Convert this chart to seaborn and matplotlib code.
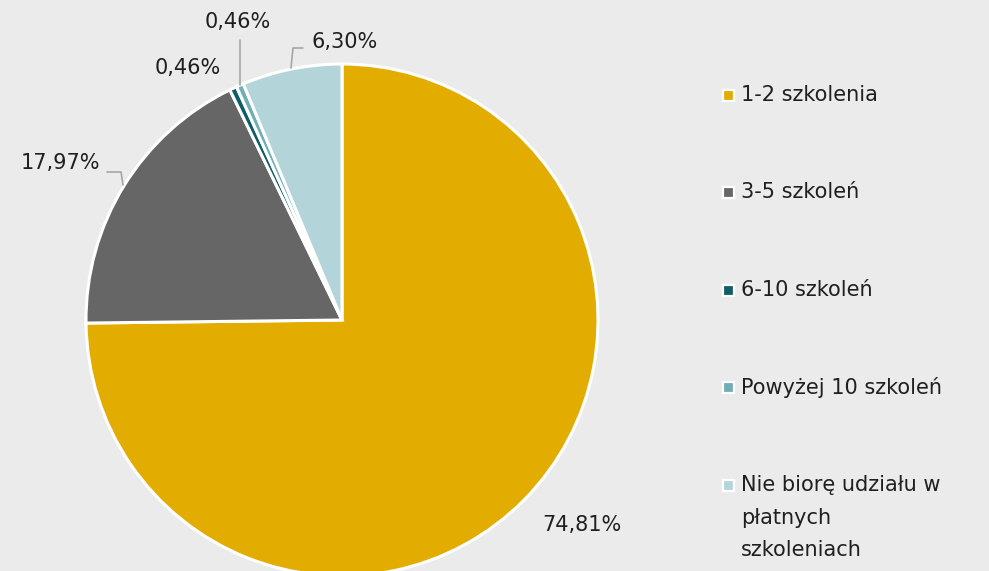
import matplotlib
matplotlib.use("Agg")
import matplotlib.pyplot as plt
from matplotlib.patches import Rectangle
import seaborn as sns

categories = ["1-2 szkolenia", "3-5 szkoleń", "6-10 szkoleń", "Powyżej 10 szkoleń",
              "Nie biorę udziału w\npłatnych\nszkoleniach"]
shares = [74.81, 17.97, 0.46, 0.46, 6.30]
value_labels = ["74,81%", "17,97%", "0,46%", "0,46%", "6,30%"]
colors = ["#E2AC00", "#666666", "#0E5E68", "#72AEB6", "#B3D4D9"]

BG = "#EBEBEB"
TXT = "#1f1f1f"
sns.set_theme(style="white")
plt.rcParams["font.family"] = ["DejaVu Sans"]

W, H = 989, 571
fig = plt.figure(figsize=(W / 100, H / 100), dpi=100, facecolor=BG)
ax = fig.add_axes([0, 0, 1, 1])
ax.set_facecolor(BG)


def fy(y):
    """Convert a top-down pixel row into the axes' y-up frame."""
    return H - y


cx, cy, r = 342, 320, 256
wedges, _ = ax.pie(shares, colors=colors, startangle=90, counterclock=False,
                   center=(cx, fy(cy)), radius=r,
                   wedgeprops=dict(edgecolor="white", linewidth=2.2))
ax.set_xlim(0, W)
ax.set_ylim(0, H)
ax.set_aspect("equal")
ax.axis("off")

FS = 15

# data labels (text centres) and their leader lines
label_pos = [(582, 525), (60, 163), (188, 68), (238, 22), (345, 42)]
for txt, (lx, ly) in zip(value_labels, label_pos):
    ax.text(lx, fy(ly), txt, ha="center", va="center", fontsize=FS, color=TXT)

lead = dict(color="#A6A6A6", linewidth=1.2)
ax.plot([107, 121, 123], [fy(172), fy(172), fy(185)], **lead)
ax.plot([240, 240], [fy(40), fy(85)], **lead)
ax.plot([303, 293, 291], [fy(48), fy(48), fy(68)], **lead)

# legend on the right: square swatch + label, one row per category
row0, step, sq, line_h = 95, 97.5, 11, 32.5
for i, (name, c) in enumerate(zip(categories, colors)):
    y = row0 + i * step
    ax.add_patch(Rectangle((728 - sq / 2, fy(y) - sq / 2), sq, sq, facecolor=c,
                           edgecolor="white", linewidth=1.6))
    for k, line in enumerate(name.split("\n")):
        ax.text(741, fy(y + k * line_h), line, ha="left", va="center",
                fontsize=FS, color=TXT)

fig.savefig("out.png", dpi=100, facecolor=BG)
